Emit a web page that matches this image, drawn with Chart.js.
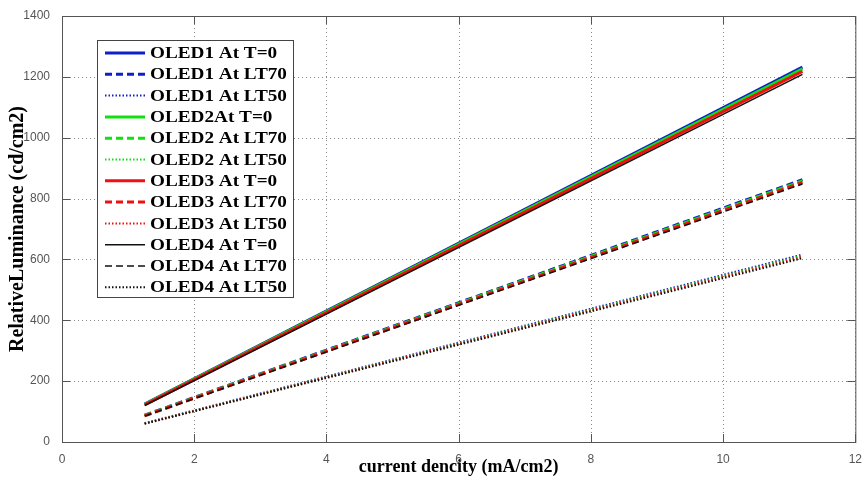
<!DOCTYPE html>
<html>
<head>
<meta charset="utf-8">
<script src="https://cdn.jsdelivr.net/npm/chart.js@4"></script>
<style>
  html, body { margin: 0; padding: 0; background: #fff; }
  #wrap { width: 864px; height: 478px; }
</style>
</head>
<body>
<div id="wrap"><canvas id="chart" width="864" height="478"></canvas></div>
<script>
// current density at the two ends of each line (mA/cm2)
const density = [1.25, 11.2];

// relative luminance (cd/cm2)
const oled1_t0 = [125, 1232];
const oled1_lt70 = [88, 862];
const oled1_lt50 = [62, 616];
const oled2_t0 = [124, 1226];
const oled2_lt70 = [87, 858];
const oled2_lt50 = [61, 612];
const oled3_t0 = [122, 1218];
const oled3_lt70 = [86, 853];
const oled3_lt50 = [61, 609];
const oled4_t0 = [120, 1208];
const oled4_lt70 = [85, 848];
const oled4_lt50 = [60, 604];

const labels = ['OLED1 At T=0', 'OLED1 At LT70', 'OLED1 At LT50',
                'OLED2At T=0', 'OLED2 At LT70', 'OLED2 At LT50',
                'OLED3 At T=0', 'OLED3 At LT70', 'OLED3 At LT50',
                'OLED4 At T=0', 'OLED4 At LT70', 'OLED4 At LT50'];
const series = [oled1_t0, oled1_lt70, oled1_lt50, oled2_t0, oled2_lt70, oled2_lt50,
                oled3_t0, oled3_lt70, oled3_lt50, oled4_t0, oled4_lt70, oled4_lt50];

const colors = ['#1020c8', '#10e010', '#f01010', '#111111'];
const widths = [[3, 3, 2], [3, 3, 2], [3, 3, 2], [1.5, 1.5, 2]];
const dashes = [[], [7, 4], [1.5, 2]];

function pts(arr)
{
    return arr.map((v, i) => ({x: density[i], y: v}));
}

const datasets = series.map((s, i) => {
    const dev = Math.floor(i / 3), kind = i % 3;
    return {
        label: labels[i],
        data: pts(s),
        borderColor: colors[dev],
        backgroundColor: colors[dev],
        borderWidth: widths[dev][kind],
        borderDash: dashes[kind],
        pointRadius: 0,
        fill: false,
        order: 12 - i
    };
});

// legend box inside the plot, matlab style (text is a bit stretched in the original)
const boxLegend = {
    id: 'boxLegend',
    afterDraw(chart) {
        const c = chart.ctx, a = chart.chartArea;
        const x0 = a.left + 35, y0 = a.top + 24, w = 196, h = 257;
        c.save();
        c.fillStyle = '#fff';
        c.fillRect(x0, y0, w, h);
        c.strokeStyle = '#444';
        c.lineWidth = 1;
        c.strokeRect(x0 + 0.5, y0 + 0.5, w, h);
        c.font = 'bold 16px "Liberation Serif", "Times New Roman", serif';
        c.textBaseline = 'middle';
        chart.data.datasets.forEach((d, i) => {
            const y = y0 + 13 + i * 21.3;
            c.strokeStyle = d.borderColor;
            c.lineWidth = d.borderWidth;
            c.setLineDash(d.borderDash);
            c.beginPath();
            c.moveTo(x0 + 8, y);
            c.lineTo(x0 + 48, y);
            c.stroke();
            c.setLineDash([]);
            c.fillStyle = '#000';
            c.save();
            c.translate(x0 + 53, y + 1);
            c.scale(1.2, 1);
            c.fillText(d.label, 0, 0);
            c.restore();
        });
        c.restore();
    }
};

// dotted grid under the lines
const dotGrid = {
    id: 'dotGrid',
    beforeDatasetsDraw(chart) {
        const c = chart.ctx, a = chart.chartArea;
        const xs = chart.scales.x, ys = chart.scales.y;
        c.save();
        c.strokeStyle = '#888';
        c.lineWidth = 1;
        c.setLineDash([1, 3]);
        c.beginPath();
        xs.ticks.forEach(t => {
            const px = Math.round(xs.getPixelForValue(t.value)) + 0.5;
            c.moveTo(px, a.top); c.lineTo(px, a.bottom);
        });
        ys.ticks.forEach(t => {
            const py = Math.round(ys.getPixelForValue(t.value)) + 0.5;
            c.moveTo(a.left, py); c.lineTo(a.right, py);
        });
        c.stroke();
        c.restore();
    }
};

// frame and inward ticks
const frame = {
    id: 'frame',
    afterDatasetsDraw(chart) {
        const c = chart.ctx, a = chart.chartArea;
        const xs = chart.scales.x, ys = chart.scales.y;
        c.save();
        c.strokeStyle = '#555';
        c.lineWidth = 1;
        c.strokeRect(a.left + 0.5, a.top + 0.5, a.right - a.left, a.bottom - a.top);
        c.beginPath();
        xs.ticks.forEach(t => {
            const px = Math.round(xs.getPixelForValue(t.value)) + 0.5;
            c.moveTo(px, a.bottom); c.lineTo(px, a.bottom - 8);
            c.moveTo(px, a.top); c.lineTo(px, a.top + 8);
        });
        ys.ticks.forEach(t => {
            const py = Math.round(ys.getPixelForValue(t.value)) + 0.5;
            c.moveTo(a.left, py); c.lineTo(a.left + 8, py);
            c.moveTo(a.right, py); c.lineTo(a.right - 8, py);
        });
        c.stroke();
        c.restore();
    }
};

const tickFont = {family: '"Liberation Sans", Arial, sans-serif', size: 12};

new Chart(document.getElementById('chart'), {
    type: 'line',
    data: {datasets: datasets},
    options: {
        responsive: false,
        animation: false,
        layout: {padding: {top: 16, right: 8, left: 0, bottom: 0}},
        plugins: {legend: {display: false}, tooltip: {enabled: false}},
        scales: {
            x: {
                type: 'linear', min: 0, max: 12,
                ticks: {stepSize: 2, color: '#555', font: tickFont, padding: 2, callback: v => String(v)},
                grid: {display: false},
                border: {display: false},
                title: {display: true, text: 'current dencity (mA/cm2)', color: '#000',
                        font: {family: '"Liberation Serif", "Times New Roman", serif', size: 18, weight: 'bold'},
                        padding: {top: 0, bottom: 0}},
                afterFit(s) { s.height = 36; }
            },
            y: {
                min: 0, max: 1400,
                ticks: {stepSize: 200, color: '#555', font: tickFont, padding: 4, callback: v => String(v)},
                grid: {display: false},
                border: {display: false},
                title: {display: true, text: 'RelativeLuminance (cd/cm2)', color: '#000',
                        font: {family: '"Liberation Serif", "Times New Roman", serif', size: 20, weight: 'bold'},
                        padding: {top: 6, bottom: 2}},
                afterFit(s) { s.width = 62; }
            }
        }
    },
    plugins: [dotGrid, frame, boxLegend]
});
</script>
</body>
</html>
